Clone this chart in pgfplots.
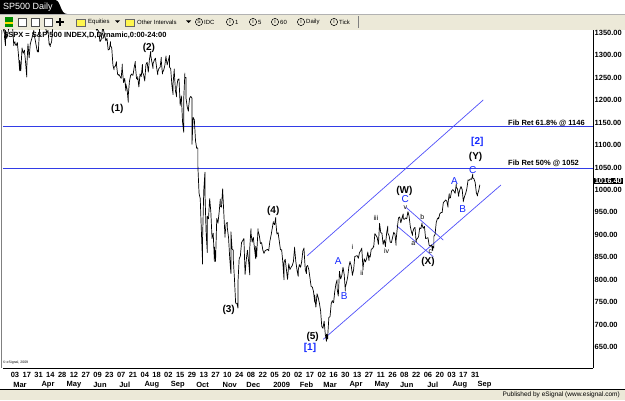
\documentclass[border=0pt]{standalone}
\usepackage{pgfplots}
\pgfplotsset{compat=1.18}
\usepackage{fontspec}
\setmainfont{Liberation Sans}
\definecolor{fibblue}{RGB}{50,60,230}
\definecolor{chanblue}{RGB}{80,80,250}
\definecolor{lblblue}{RGB}{20,40,255}
\definecolor{tbgray}{RGB}{236,233,216}
\newcommand{\fs}[1]{\fontsize{#1}{#1}\selectfont}
\begin{document}
\begin{tikzpicture}[x=1pt,y=1pt]
\fill[white] (0,0) rectangle (625,400);
\useasboundingbox (0,0) rectangle (625,400);
% toolbar
\fill[tbgray] (0,370) rectangle (625,385.5);
\draw[gray!60, line width=0.6pt] (0,385.7) -- (625,385.7);
\fill[green!55!black] (5,373) rectangle (13,383);
\fill[yellow!80!orange] (5,376) rectangle (13,378);
\draw[black!70, fill=white] (18,374) rectangle (26,382);
\draw[black!70, fill=white] (31,374) rectangle (39,382);
\draw[black!70, fill=white] (44,374) rectangle (52,382);
\draw[black, line width=1.2pt] (56,378) -- (64,378) (60,374) -- (60,382);
\draw[black!60, fill=yellow!70] (76,374) rectangle (85,381);
\node[anchor=west, font=\fs{6}, inner sep=0] at (88,378) {Equities};
\fill (115,379.5) -- (120,379.5) -- (117.5,377) -- cycle;
\draw[black!60, fill=yellow!70] (125,374) rectangle (134,381);
\node[anchor=west, font=\fs{6}, inner sep=0] at (137,378) {Other Intervals};
\fill (186,379.5) -- (191,379.5) -- (188.5,377) -- cycle;
\foreach \cx/\lt/\tx in {199/S/IDC,230/I/1,253/I/5,275/I/60,301/I/Daily,334/I/Tick}{
  \draw[black, line width=0.5pt] (\cx,378) circle (3.6);
  \node[font=\fs{5}, inner sep=0] at (\cx,378) {\lt};
  \node[anchor=west, font=\fs{6}, inner sep=0] at (\cx+5,378) {\tx};
}
\draw[gray] (358,372) -- (358,384);
% tab
\fill[black] (0,386) -- (0,400) -- (55,400) .. controls (61,400) and (60,386) .. (67,386) -- cycle;
\node[anchor=west, text=white, font=\fs{9}, inner sep=0] at (3,393) {SP500 Daily};
% footer
\fill[tbgray] (0,0) rectangle (625,11);
\draw[black, line width=0.8pt] (0,11) -- (625,11);
\node[anchor=east, font=\fs{6.5}, inner sep=0] at (620,5.5) {Published by eSignal (www.esignal.com)};
\draw[gray, line width=0.8pt] (1.2,32) -- (1.2,370);
\begin{axis}[at={(3pt,32pt)}, anchor=south west, scale only axis,
  width=590pt, height=338pt,
  xmin=-2.03, xmax=97.97, ymin=607.5, ymax=1360.9,
  axis x line*=bottom, axis y line*=right,
  axis line style={black, line width=0.8pt, -},
  clip mode=individual,
  xtick={0,2,...,78},
  xticklabels={03,17,31,14,28,12,27,09,23,07,21,04,18,02,15,29,13,27,10,24,08,22,05,20,02,17,02,16,30,13,27,11,26,08,22,06,20,03,17,31},
  xticklabel style={font=\fs{7.5}\bfseries, anchor=center, yshift=-7pt, inner sep=0pt},
  ytick={650,700,...,1350},
  yticklabel style={font=\fs{7.5}\bfseries, anchor=west, xshift=1.5pt, yshift=2pt, inner sep=0pt,
    /pgf/number format/.cd, fixed, fixed zerofill, precision=2, 1000 sep={}, assume math mode=true},
  major tick length=0pt,
]
% Fib lines
\addplot[fibblue, line width=1.1pt] coordinates {(-2.03,1146) (97.97,1146)};
\addplot[fibblue, line width=1.1pt] coordinates {(-2.03,1052) (97.97,1052)};
% channel lines
\addplot[chanblue, line width=0.7pt] coordinates {(49.54,857.8) (79.37,1204.9)};
\addplot[chanblue, line width=0.7pt] coordinates {(52.25,671.4) (82.37,1015.4)};
\addplot[chanblue, line width=0.7pt] coordinates {(64.69,924.7) (70.90,855.6)};
\addplot[chanblue, line width=0.7pt] coordinates {(66.27,965.7) (72.59,892.8)};
% price
\addplot[black, line width=0.7pt, line join=round] coordinates {
(-3,1320)(-3,1339)(-2.8,1349)(-2.6,1370)(-2.6,1367)(-2.4,1349)(-2.2,1349)
(-1.8,1367)(-1.8,1348)(-1.6,1326)(-1.6,1360)(-1.4,1342)(-1.2,1353)
(-1,1371)(-0.8,1381)(-0.6,1388)(-0.6,1380)(-0.4,1367)(-0.2,1326)(-0.2,1331)
(0,1335)(0,1331)(0.2,1326)(0.4,1333)(0.6,1304)(0.8,1270)(0.8,1293)
(1,1270)(1,1273)(1.2,1321)(1.2,1320)(1.4,1309)(1.6,1316)(1.8,1288)
(2,1256)(2,1277)(2.2,1330)(2.4,1299)(2.6,1331)(2.6,1330)
(3,1349)(3.2,1360)(3.2,1352)(3.4,1341)(3.6,1326)(3.8,1312)(3.8,1316)
(4,1312)(4,1323)(4.2,1370)(4.4,1367)(4.6,1370)(4.8,1381)(4.8,1370)
(5,1386)(5,1372)(5.2,1365)(5.4,1354)(5.6,1360)(5.8,1328)(5.8,1332)
(6,1324)(6,1328)(6.2,1334)(6.4,1365)(6.6,1365)(6.8,1395)(6.8,1390)
(7,1388)(7.2,1370)(7.2,1375)(7.4,1379)(7.6,1388)(7.8,1404)(7.8,1398)
(8,1397)(8.2,1391)(8.4,1380)(8.4,1386)(8.6,1409)(8.8,1422)(8.8,1414)
(9,1407)(9.2,1422)(9.2,1418)(9.4,1393)(9.6,1398)(9.8,1381)(9.8,1389)
(10,1385)(10,1403)(10.2,1403)(10.4,1408)(10.6,1424)(10.8,1426)(10.8,1425)
(11,1441)(11,1426)(11.2,1414)(11.4,1391)(11.6,1394)(11.8,1373)(11.8,1375)
(12.2,1373)(12.2,1385)(12.4,1390)(12.6,1398)(12.8,1406)(12.8,1400)
(13,1385)(13.2,1377)(13.4,1378)(13.6,1405)(13.6,1404)(13.8,1360)(13.8,1361)
(14,1370)(14,1361)(14.2,1358)(14.4,1335)(14.6,1339)(14.8,1360)
(15,1370)(15,1361)(15.2,1350)(15.4,1337)(15.6,1342)(15.8,1316)(15.8,1317)
(16,1318)(16.2,1335)(16.2,1326)(16.4,1321)(16.6,1283)(16.8,1272)(16.8,1278)
(17,1280)(17.2,1290)(17.2,1284)(17.4,1262)(17.6,1260)(17.6,1262)
(18,1253)(18.2,1285)(18.2,1273)(18.4,1244)(18.6,1253)(18.8,1225)(18.8,1240)
(19,1229)(19.2,1200)(19.2,1215)(19.4,1246)(19.6,1260)(19.8,1263)(19.8,1261)
(20,1260)(20.2,1277)(20.4,1291)(20.4,1283)(20.6,1253)(20.8,1250)(20.8,1257)
(21,1234)(21.2,1263)(21.4,1257)(21.6,1284)(21.6,1267)(21.8,1261)
(22,1247)(22,1249)(22.2,1284)(22.4,1289)(22.6,1267)(22.8,1297)(22.8,1296)
(23,1313)(23,1305)(23.2,1290)(23.4,1275)(23.4,1286)(23.6,1293)(23.8,1298)
(24,1278)(24.2,1261)(24.2,1267)(24.4,1275)(24.6,1278)(24.8,1300)(24.8,1292)
(25,1263)(25,1266)(25.2,1271)(25.4,1282)(25.6,1303)(25.6,1300)(25.8,1283)
(26.2,1304)(26.2,1278)(26.4,1274)(26.6,1237)(26.8,1217)(26.8,1242)
(27,1274)(27,1268)(27.2,1225)(27.4,1212)(27.4,1232)(27.6,1250)(27.8,1252)
(28,1193)(28.2,1214)(28.4,1156)(28.6,1133)(28.6,1206)(28.8,1265)(28.8,1255)
(29,1255)(29,1208)(29.2,1189)(29.4,1180)(29.4,1185)(29.6,1209)(29.8,1213)
(30,1209)(30,1106)(30.2,1166)(30.4,1161)(30.6,1114)(30.8,1097)(30.8,1099)
(31,1097)(31,1057)(31.2,997)(31.4,985)(31.6,910)(31.8,839)(31.8,899)
(32,1003)(32.2,1044)(32.2,998)(32.4,908)(32.6,865)(32.6,946)(32.8,940)
(33,985)(33.2,955)(33.4,896)(33.6,908)(33.8,845)(33.8,877)
(34,845)(34,848)(34.2,941)(34.4,930)(34.6,954)(34.8,984)(34.8,968)
(35,966)(35.2,1007)(35.2,1005)(35.4,952)(35.6,899)(35.6,904)(35.8,930)
(36,932)(36,919)(36.2,898)(36.4,852)(36.6,818)(36.6,911)(36.8,873)
(37,870)(37,850)(37.2,806)(37.4,752)(37.6,752)(37.8,741)(37.8,800)
(38,851)(38.2,857)(38.4,887)(38.8,896)
(39,816)(39.2,848)(39.4,870)(39.6,845)(39.8,815)(39.8,876)
(40,918)(40,909)(40.2,888)(40.4,899)(40.6,873)(40.8,851)(40.8,879)
(41,855)(41,868)(41.2,918)(41.2,913)(41.4,904)(41.6,885)(41.8,887)
(42,871)(42.2,863)(42.4,869)(42.8,872)
(43,869)(43.2,890)(43.4,903)(43.8,934)(43.8,931)
(44,927)(44.2,943)(44.2,934)(44.4,906)(44.6,909)(44.8,890)
(45,871)(45.2,871)(45.4,843)(45.6,804)(45.6,843)(45.8,850)
(46.2,805)(46.4,840)(46.6,827)(46.8,832)
(47,836)(47.2,845)(47.4,877)(47.4,874)(47.6,845)(47.8,826)
(48,812)(48,825)(48.2,838)(48.4,832)(48.6,845)(48.8,869)
(49,875)(49,870)(49.2,827)(49.4,818)(49.4,833)(49.6,836)(49.8,827)
(50.2,789)(50.4,788)(50.6,778)(50.8,754)(50.8,770)
(51,743)(51.2,773)(51.4,764)(51.6,752)(51.8,735)
(52,700)(52.2,696)(52.4,712)(52.6,682)(52.8,667)(52.8,683)
(53,672)(53,677)(53.2,720)(53.4,722)(53.6,751)(53.8,758)(53.8,756)
(54,753)(54.2,778)(54.4,795)(54.6,804)(54.6,784)(54.8,768)
(55,823)(55.2,806)(55.4,814)(55.6,832)(55.8,816)
(56,779)(56,788)(56.2,798)(56.4,811)(56.6,834)(56.8,845)(56.8,843)
(57,835)(57.2,814)(57.2,815)(57.4,827)(57.6,856)
(58,858)(58.2,852)(58.4,865)(58.6,869)(58.8,875)(58.8,870)
(59,826)(59,832)(59.2,851)(59.4,844)(59.6,851)(59.8,866)
(60,847)(60,858)(60.2,855)(60.4,873)(60.6,873)(60.8,880)(60.8,877)
(61,907)(61.2,903)(61.4,898)(61.6,883)(61.8,930)(61.8,929)
(62,909)(62.2,908)(62.4,883)(62.6,893)(62.8,878)(62.8,882)
(63,909)(63.2,924)(63.2,908)(63.4,903)(63.6,888)(63.8,887)
(64.2,910)(64.4,906)(64.6,881)(64.6,893)(64.8,919)
(65,942)(65.2,944)(65.4,931)(65.6,942)(65.8,951)(65.8,940)
(66,939)(66.2,942)(66.4,940)(66.6,956)(66.8,946)
(67,923)(67.2,911)(67.4,903)(67.4,910)(67.6,918)(67.8,921)
(68,888)(68,893)(68.2,896)(68.4,900)(68.6,920)(68.8,918)
(69,931)(69,927)(69.2,919)(69.4,923)(69.6,896)
(70,898)(70.2,881)(70.4,879)(70.6,882)(70.8,869)(70.8,879)
(71,875)(71,901)(71.2,905)(71.4,932)(71.6,940)(71.8,943)(71.8,940)
(72,951)(72.2,954)(72.4,954)(72.6,976)(72.8,979)
(73,982)(73.2,979)(73.4,966)(73.4,975)(73.6,996)(73.6,986)(73.8,987)
(74,1002)(74.2,1005)(74.4,1002)(74.6,997)(74.8,1018)(74.8,1010)
(75,1007)(75.2,990)(75.2,994)(75.4,1005)(75.6,1012)(75.8,1005)
(76,978)(76,980)(76.2,990)(76.4,997)(76.6,1008)(76.8,1027)(76.8,1026)
(77,1026)(77.2,1029)(77.4,1028)(77.6,1040)(77.6,1031)(77.8,1029)
(78,1021)(78.2,998)(78.4,991)(78.4,995)(78.6,1003)(78.8,1016)
};
% month labels
\foreach \mx/\mn in {0.85/Mar,5.6/Apr,10.0/May,14.4/Jun,18.6/Jul,23.2/Aug,27.6/Sep,31.8/Oct,36.4/Nov,40.4/Dec,45.2/2009,49.4/Feb,53.4/Mar,57.8/Apr,62.2/May,66.4/Jun,70.8/Jul,75.4/Aug,79.6/Sep}{
  \edef\tmp{\noexpand\node[font=\noexpand\fs{7.5}\noexpand\bfseries, inner sep=0pt, yshift=-17pt] at (axis cs:\mx,607.5) {\mn};}\tmp
}
% wave labels
\begin{scope}[every node/.style={inner sep=0pt, font=\fs{10}\bfseries}]
\node at (axis cs:17.34,1184.2) {(1)};
\node at (axis cs:22.71,1320.8) {(2)};
\node at (axis cs:36.22,736.8) {(3)};
\node at (axis cs:43.78,957.4) {(4)};
\node at (axis cs:50.46,675.9) {(5)};
\node at (axis cs:66.0,1002) {(W)};
\node at (axis cs:70.0,844.7) {(X)};
\node at (axis cs:78.08,1078.5) {(Y)};
\node[text=lblblue] at (axis cs:50.0,652) {[1]};
\node[text=lblblue] at (axis cs:78.36,1111.9) {[2]};
\end{scope}
\begin{scope}[every node/.style={inner sep=0pt, font=\fs{10}, text=lblblue}]
\node at (axis cs:54.8,845.3) {A};
\node at (axis cs:55.81,768) {B};
\node at (axis cs:66.15,983.5) {C};
\node at (axis cs:74.5,1025) {A};
\node at (axis cs:75.9,962) {B};
\node at (axis cs:77.6,1049) {C};
\end{scope}
\begin{scope}[every node/.style={inner sep=0pt, font=\fs{7}}]
\node at (axis cs:57.17,877.9) {i};
\node at (axis cs:58.81,818.6) {ii};
\node at (axis cs:61.19,941.8) {iii};
\node at (axis cs:63.0,869) {iv};
\node at (axis cs:66.15,966) {v};
\node at (axis cs:67.51,883.9) {a};
\node at (axis cs:69.05,943.4) {b};
\node at (axis cs:70.4,866) {c};
\end{scope}
\end{axis}
% header texts in plot
\node[anchor=west, font=\fs{7.5}\bfseries, inner sep=0] at (4,365) {\$SPX = S\&P 500 INDEX,D,Dynamic,0:00-24:00};
\node[anchor=west, font=\fs{7.5}\bfseries, inner sep=0] at (508,276.7) {Fib Ret 61.8\% @ 1146};
\node[anchor=west, font=\fs{7.5}\bfseries, inner sep=0] at (508,236.7) {Fib Ret 50\% @ 1052};
\node[anchor=west, fill=black, text=white, font=\fs{7.5}\bfseries, inner sep=0.6pt] at (594,219) {1016.40};
\node[anchor=west, font=\fs{3.5}, inner sep=0] at (3,37) {\textcopyright\ eSignal, 2009};
\end{tikzpicture}
\end{document}
